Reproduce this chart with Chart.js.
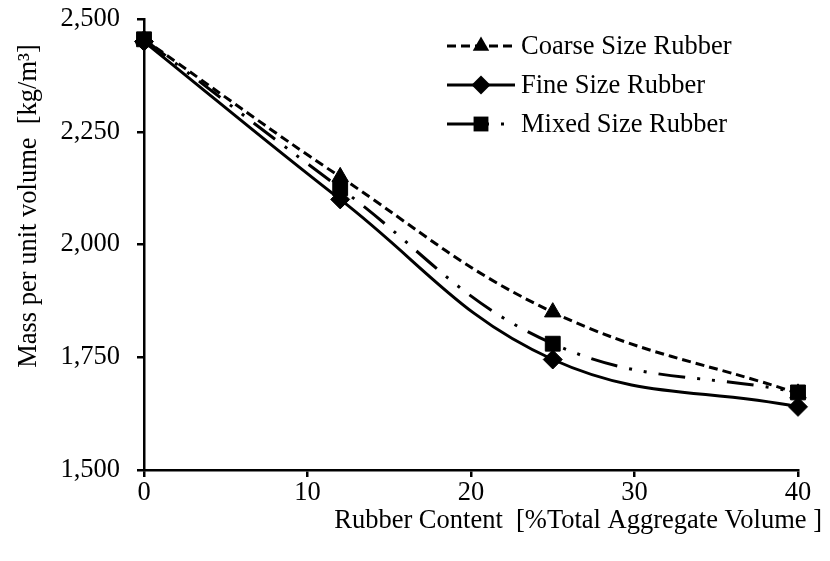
<!DOCTYPE html>
<html>
<head>
<meta charset="utf-8">
<script src="https://cdn.jsdelivr.net/npm/chart.js@4.4.1/dist/chart.umd.min.js"></script>
<style>
  html, body { margin: 0; padding: 0; background: #ffffff; }
  #wrap { width: 830px; height: 561px; }
</style>
</head>
<body>
<div id="wrap"><canvas id="massChart" width="830" height="561"></canvas></div>
<script>
// Rubber content, % of total aggregate volume
const rubberContent = [0, 12, 25, 40];

// Mass per unit volume, kg/m³
const coarseMass = [2455, 2150, 1850, 1670];
const fineMass   = [2450, 2100, 1745, 1640];
const mixedMass  = [2455, 2125, 1780, 1672];

const seriesNames = ['Coarse Size Rubber', 'Fine Size Rubber', 'Mixed Size Rubber'];

const xTickValues = [0, 10, 20, 30, 40];
const yTickValues = [1500, 1750, 2000, 2250, 2500];

const xAxisTitle = 'Rubber Content  [%Total Aggregate Volume ]';
const yAxisTitle = 'Mass per unit volume  [kg/m³]';

const FONT = '"Liberation Serif", "Times New Roman", serif';
const TEXT_SIZE = 26.5;
const INK = '#000000';

function toPoints(values) {
  return rubberContent.map((x, i) => ({ x: x, y: values[i] }));
}

const styles = [
  { dash: [9, 5], marker: 'triangle', radius: 9.5 },
  { dash: [], marker: 'rectRot', radius: 9.5 },
  { dash: [27, 12, 3, 12, 3, 12], marker: 'rect', radius: 10.5 }
];
const seriesValues = [coarseMass, fineMass, mixedMass];

const datasets = seriesValues.map((vals, i) => ({
  label: seriesNames[i],
  data: toPoints(vals),
  borderColor: INK,
  backgroundColor: INK,
  borderWidth: 3,
  borderDash: styles[i].dash,
  borderCapStyle: 'butt',
  tension: 0.4,
  pointStyle: styles[i].marker,
  pointRadius: styles[i].radius,
  pointHoverRadius: styles[i].radius,
  pointBackgroundColor: INK,
  pointBorderColor: INK,
  pointBorderWidth: 1,
  clip: false,
  order: 2 - i
}));

// Draws a marker shape centred on (x, y)
function drawMarker(ctx, style, r, x, y) {
  ctx.save();
  ctx.setLineDash([]);
  ctx.fillStyle = INK;
  ctx.beginPath();
  if (style === 'triangle') {
    const a = -Math.PI / 2;
    for (let k = 0; k < 3; k++) {
      const t = a + k * 2 * Math.PI / 3;
      const px = x + Math.cos(t) * r, py = y + Math.sin(t) * r;
      if (k === 0) ctx.moveTo(px, py); else ctx.lineTo(px, py);
    }
  } else if (style === 'rectRot') {
    ctx.moveTo(x, y - r); ctx.lineTo(x + r, y); ctx.lineTo(x, y + r); ctx.lineTo(x - r, y);
  } else {
    const s = r * Math.SQRT1_2;
    ctx.rect(x - s, y - s, 2 * s, 2 * s);
  }
  ctx.closePath();
  ctx.fill();
  ctx.restore();
}

// Series key in the upper right: line sample, marker, name
const seriesKey = {
  id: 'seriesKey',
  afterDraw(chart) {
    const ctx = chart.ctx;
    const rows = [46, 85, 124];
    const x0 = 447, x1 = 515, xm = 481, xt = 521;
    ctx.save();
    rows.forEach((y, i) => {
      ctx.strokeStyle = INK;
      ctx.lineWidth = 3;
      ctx.lineCap = 'butt';
      ctx.setLineDash(styles[i].dash);
      ctx.beginPath();
      ctx.moveTo(x0, y);
      ctx.lineTo(x1, y);
      ctx.stroke();
      drawMarker(ctx, styles[i].marker, styles[i].radius, xm, y);
      ctx.setLineDash([]);
      ctx.fillStyle = INK;
      ctx.font = TEXT_SIZE + 'px ' + FONT;
      ctx.textAlign = 'left';
      ctx.textBaseline = 'middle';
      ctx.fillText(seriesNames[i], xt, y + 1);
    });
    ctx.restore();
  }
};

// Axis titles placed relative to the chart area
const axisTitles = {
  id: 'axisTitles',
  afterDraw(chart) {
    const ctx = chart.ctx;
    const area = chart.chartArea;
    ctx.save();
    ctx.fillStyle = INK;
    ctx.font = TEXT_SIZE + 'px ' + FONT;
    ctx.textBaseline = 'middle';
    ctx.textAlign = 'right';
    ctx.fillText(xAxisTitle, area.right + 24, 521);
    ctx.translate(29, 206);
    ctx.rotate(-Math.PI / 2);
    ctx.textAlign = 'center';
    ctx.fillText(yAxisTitle, 0, 0);
    ctx.restore();
  }
};

// Keeps the plot edges fixed regardless of tick label overhang
function noOverhang(scale) {
  scale.paddingTop = 0;
  scale.paddingBottom = 0;
  scale.paddingLeft = 0;
  scale.paddingRight = 0;
}

function build() {
  new Chart(document.getElementById('massChart'), {
    type: 'line',
    data: { datasets: datasets },
    options: {
      responsive: false,
      animation: false,
      events: [],
      layout: { padding: { top: 19, right: 32, left: 0, bottom: 0 } },
      plugins: {
        legend: { display: false },
        tooltip: { enabled: false },
        title: { display: false }
      },
      scales: {
        x: {
          type: 'linear',
          min: 0,
          max: 40,
          afterBuildTicks(scale) { scale.ticks = xTickValues.map(v => ({ value: v })); },
          afterFit(scale) { scale.height = 91; noOverhang(scale); },
          grid: { drawOnChartArea: false, drawTicks: true, tickLength: 7, color: INK, lineWidth: 2.5 },
          border: { display: true, color: INK, width: 2.5 },
          ticks: { color: INK, font: { family: FONT, size: TEXT_SIZE }, padding: 0, maxRotation: 0, autoSkip: false }
        },
        y: {
          type: 'linear',
          min: 1500,
          max: 2500,
          afterBuildTicks(scale) { scale.ticks = yTickValues.map(v => ({ value: v })); },
          afterFit(scale) { scale.width = 144; noOverhang(scale); },
          grid: { drawOnChartArea: false, drawTicks: true, tickLength: 7, color: INK, lineWidth: 2.5 },
          border: { display: true, color: INK, width: 2.5 },
          ticks: {
            color: INK,
            font: { family: FONT, size: TEXT_SIZE },
            padding: 17,
            autoSkip: false,
            callback: v => v.toLocaleString('en-US')
          }
        }
      }
    },
    plugins: [seriesKey, axisTitles]
  });
}

if (document.fonts && document.fonts.load) {
  document.fonts.load(TEXT_SIZE + 'px "Liberation Serif"').then(build, build);
} else {
  build();
}
</script>
</body>
</html>
